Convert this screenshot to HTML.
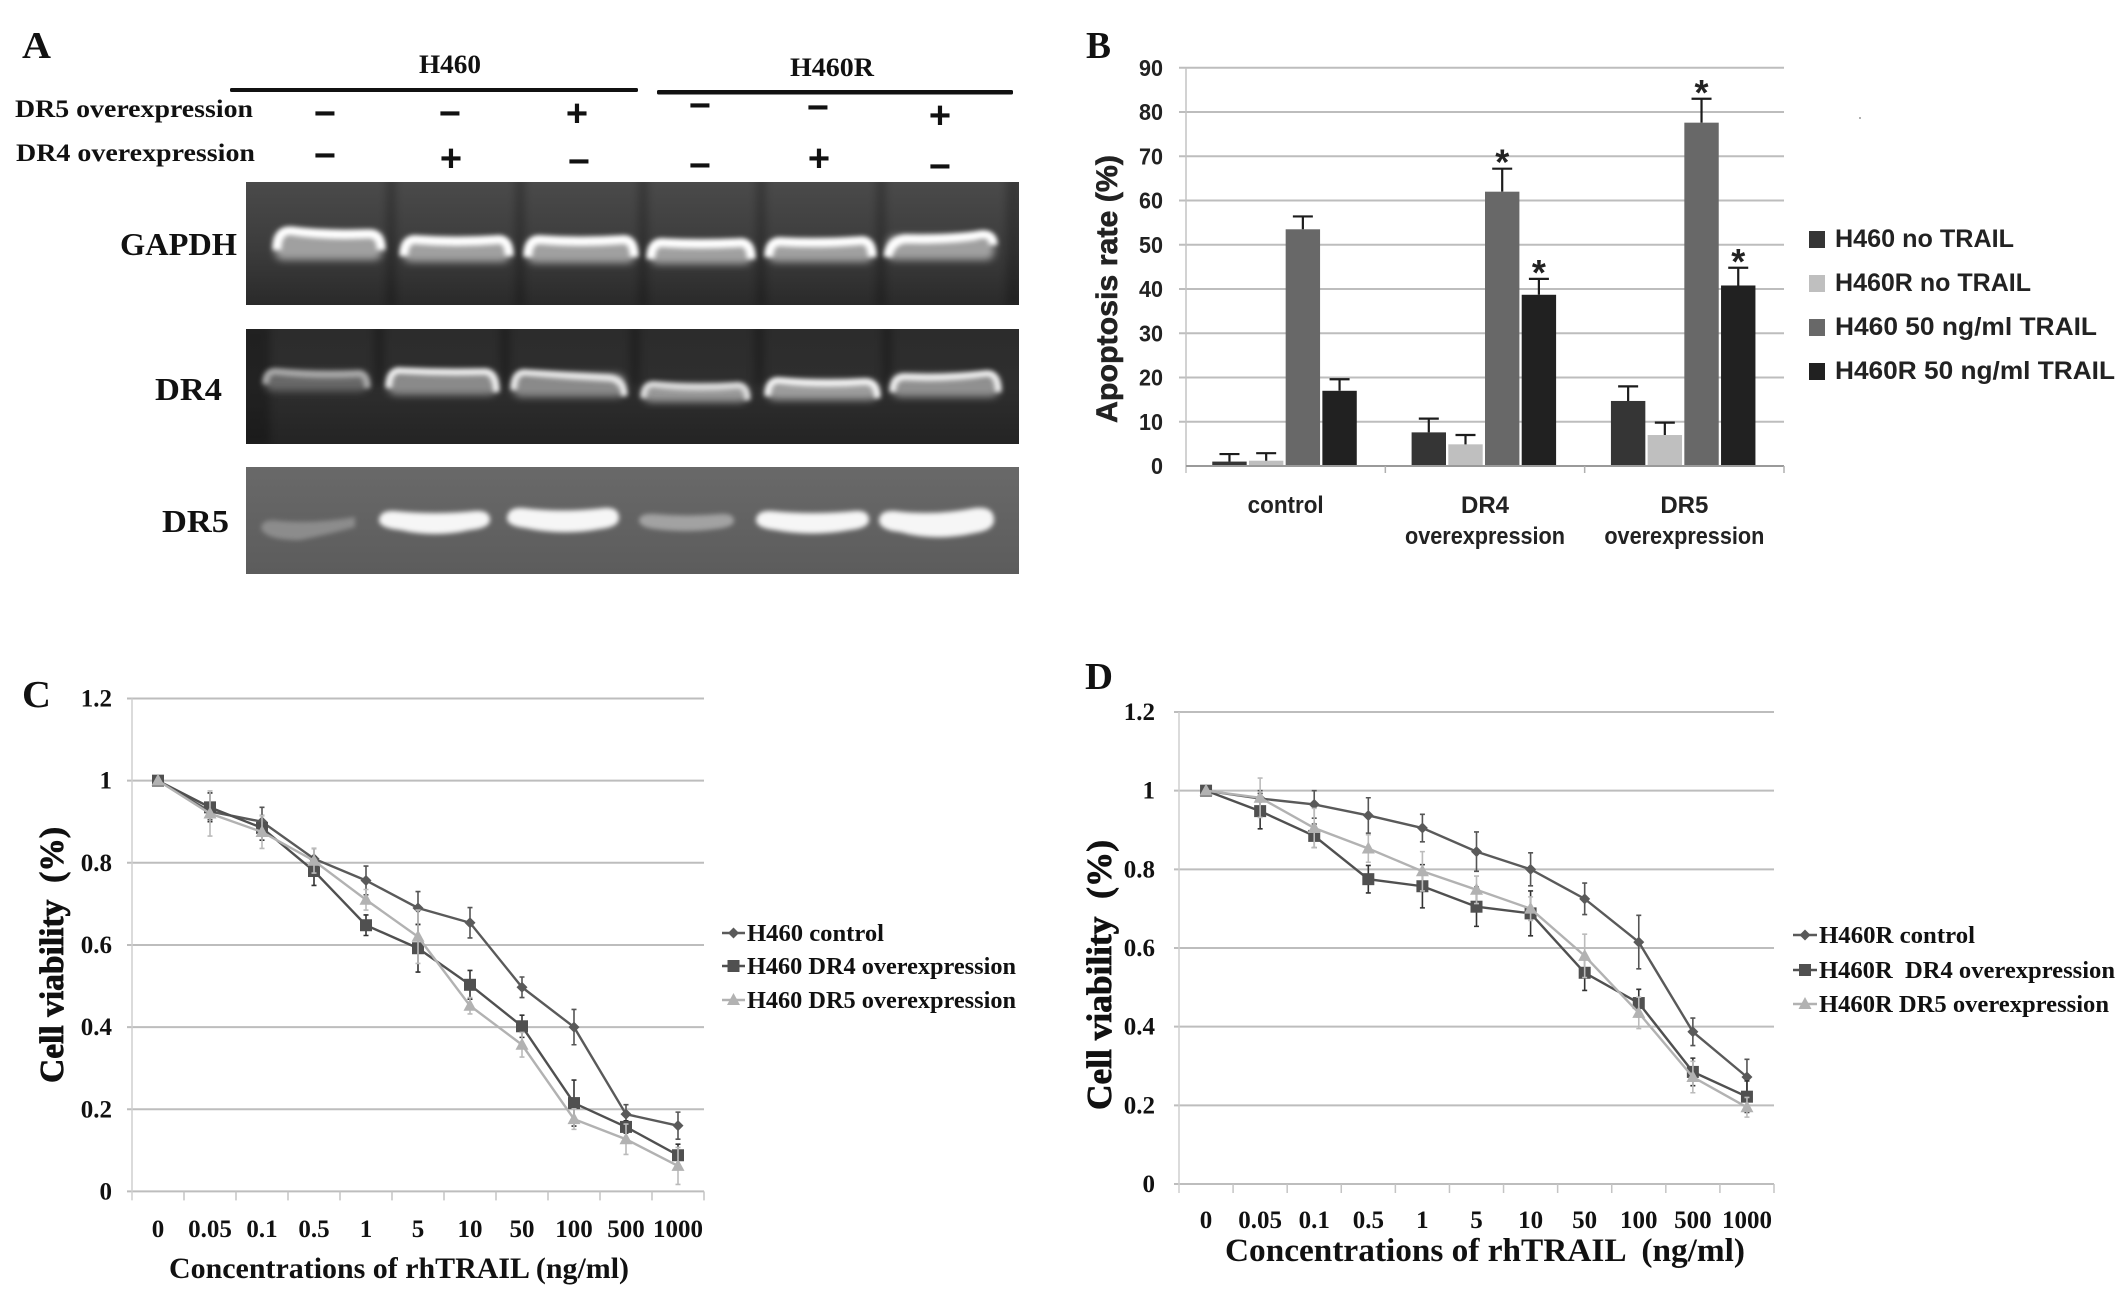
<!DOCTYPE html>
<html lang="en">
<head>
<meta charset="utf-8">
<title>DR4 and DR5 overexpression figure</title>
<style>
html,body{margin:0;padding:0;background:#fff;}
svg{display:block;}
.serif{font-family:"Liberation Serif",serif;font-weight:bold;fill:#111;}
.sans{font-family:"Liberation Sans",sans-serif;font-weight:bold;fill:#222;}
</style>
</head>
<body>
<svg id="figure" xmlns="http://www.w3.org/2000/svg" width="2126" height="1314" viewBox="0 0 2126 1314">
<defs>
<filter id="blurBand" filterUnits="userSpaceOnUse" x="230" y="170" width="800" height="420"><feGaussianBlur stdDeviation="2.4"/></filter>
<filter id="blurBandSoft" filterUnits="userSpaceOnUse" x="230" y="170" width="800" height="420"><feGaussianBlur stdDeviation="4"/></filter>
<filter id="blurLane" filterUnits="userSpaceOnUse" x="230" y="170" width="800" height="420"><feGaussianBlur stdDeviation="4"/></filter>
<linearGradient id="gapdhBg" x1="0" y1="0" x2="0" y2="1"><stop offset="0" stop-color="#4a4a4a"/><stop offset="0.55" stop-color="#3c3c3c"/><stop offset="1" stop-color="#2a2a2a"/></linearGradient>
<linearGradient id="dr4Bg" x1="0" y1="0" x2="0" y2="1"><stop offset="0" stop-color="#2c2c2c"/><stop offset="0.5" stop-color="#2e2e2e"/><stop offset="1" stop-color="#242424"/></linearGradient>
<linearGradient id="dr5Bg" x1="0" y1="0" x2="0" y2="1"><stop offset="0" stop-color="#696969"/><stop offset="1" stop-color="#5c5c5c"/></linearGradient>
<clipPath id="clipGapdh"><rect x="246" y="182" width="773" height="123"/></clipPath>
<clipPath id="clipDr4"><rect x="246" y="329" width="773" height="115"/></clipPath>
<clipPath id="clipDr5"><rect x="246" y="467" width="773" height="107"/></clipPath>
</defs>

<rect x="0" y="0" width="2126" height="1314" fill="#ffffff"/>

<!-- Panel letters -->
<text class="serif" x="22" y="58" font-size="38" textLength="29" lengthAdjust="spacingAndGlyphs">A</text>
<text class="serif" x="1086" y="58" font-size="38" textLength="25" lengthAdjust="spacingAndGlyphs">B</text>
<text class="serif" x="22" y="707" font-size="38" textLength="29" lengthAdjust="spacingAndGlyphs">C</text>
<text class="serif" x="1085" y="689" font-size="38" textLength="28" lengthAdjust="spacingAndGlyphs">D</text>

<!-- Panel A headers -->
<g>
<text class="serif" x="450" y="73" font-size="26" text-anchor="middle" textLength="62" lengthAdjust="spacingAndGlyphs">H460</text>
<text class="serif" x="832" y="76" font-size="26" text-anchor="middle" textLength="84" lengthAdjust="spacingAndGlyphs">H460R</text>
<rect x="230" y="88" width="408" height="4" rx="1.5" fill="#111"/>
<rect x="657" y="90" width="356" height="4.5" rx="1.5" fill="#111"/>
<text class="serif" x="15" y="117" font-size="25" textLength="238" lengthAdjust="spacingAndGlyphs">DR5 overexpression</text>
<text class="serif" x="16" y="161" font-size="25" textLength="239" lengthAdjust="spacingAndGlyphs">DR4 overexpression</text>
<g class="sans" font-size="38" text-anchor="middle" style="fill:#111">
<text x="325" y="126">−</text>
<text x="450" y="126">−</text>
<text x="577" y="126">+</text>
<text x="700" y="118">−</text>
<text x="818" y="120">−</text>
<text x="940" y="128">+</text>
<text x="325" y="168">−</text>
<text x="451" y="171">+</text>
<text x="579" y="174">−</text>
<text x="700" y="178">−</text>
<text x="819" y="171">+</text>
<text x="940" y="179">−</text>
</g>
<text class="serif" x="120" y="255" font-size="32" textLength="117" lengthAdjust="spacingAndGlyphs">GAPDH</text>
<text class="serif" x="155" y="400" font-size="32" textLength="67" lengthAdjust="spacingAndGlyphs">DR4</text>
<text class="serif" x="162" y="532" font-size="32" textLength="67" lengthAdjust="spacingAndGlyphs">DR5</text>
</g>

<!-- GAPDH gel -->
<g clip-path="url(#clipGapdh)">
<rect x="246" y="182" width="773" height="123" fill="url(#gapdhBg)"/>
<g fill="#000" opacity="0.22" filter="url(#blurLane)">
<rect x="386" y="176" width="10" height="130"/>
<rect x="515" y="176" width="10" height="130"/>
<rect x="638" y="176" width="10" height="130"/>
<rect x="756" y="176" width="10" height="130"/>
<rect x="876" y="176" width="10" height="130"/>
<rect x="1006" y="176" width="16" height="130"/>
</g>
<g fill="#a0a0a0" filter="url(#blurBandSoft)">
<rect x="275" y="232" width="107" height="28" rx="8"/>
<rect x="403" y="239" width="107" height="23" rx="8"/>
<rect x="527" y="239" width="108" height="24" rx="8"/>
<rect x="650" y="242" width="102" height="22" rx="8"/>
<rect x="768" y="241" width="105" height="21" rx="8"/>
<rect x="887" y="236" width="107" height="24" rx="8"/>
</g>
<g fill="none" stroke="#ffffff" stroke-width="9" filter="url(#blurBand)">
<path d="M277 250 Q277 230 291 231 Q328 236 368 234 Q381 233 381 250"/>
<path d="M404 256 Q404 238 418 240 Q456 243 496 240 Q509 238 509 256"/>
<path d="M528 257 Q528 238 542 240 Q580 243 621 240 Q634 238 634 257"/>
<path d="M651 259 Q651 241 665 243 Q700 245 738 243 Q751 241 751 259"/>
<path d="M769 257 Q769 240 783 242 Q820 244 859 241 Q872 239 872 257"/>
<path d="M888 257 Q890 241 905 239 Q945 240 975 236 Q993 231 993 245"/>
</g>
</g>

<!-- DR4 gel -->
<g clip-path="url(#clipDr4)">
<rect x="246" y="329" width="773" height="115" fill="url(#dr4Bg)"/>
<g fill="#000" opacity="0.25" filter="url(#blurLane)">
<rect x="240" y="325" width="30" height="120"/>
<rect x="374" y="325" width="10" height="60"/>
<rect x="500" y="325" width="10" height="60"/>
<rect x="630" y="325" width="10" height="60"/>
<rect x="754" y="325" width="10" height="60"/>
<rect x="882" y="325" width="10" height="60"/>
</g>
<g filter="url(#blurBandSoft)">
<rect x="265" y="372" width="103" height="19" rx="8" fill="#686868"/>
<rect x="388" y="372" width="109" height="23" rx="8" fill="#8a8a8a"/>
<rect x="513" y="374" width="112" height="23" rx="8" fill="#8a8a8a"/>
<rect x="643" y="385" width="105" height="17" rx="8" fill="#989898"/>
<rect x="767" y="381" width="111" height="19" rx="8" fill="#9c9c9c"/>
<rect x="892" y="375" width="107" height="22" rx="8" fill="#909090"/>
</g>
<g fill="none" stroke-width="7" filter="url(#blurBand)">
<path stroke="#a8a8a8" d="M266 384 Q266 370 278 372 Q316 376 356 374 Q367 372 367 388"/>
<path stroke="#eeeeee" d="M389 388 Q389 369 402 371 Q442 373 483 372 Q496 371 496 392"/>
<path stroke="#e8e8e8" d="M514 390 Q514 371 527 373 Q568 376 610 378 Q624 380 624 396"/>
<path stroke="#dddddd" d="M644 398 Q644 383 656 385 Q695 389 735 386 Q747 384 747 400"/>
<path stroke="#f4f4f4" d="M768 396 Q768 379 781 381 Q822 385 864 382 Q877 381 877 398"/>
<path stroke="#eeeeee" d="M893 392 Q893 376 906 377 Q945 379 985 374 Q998 372 998 392"/>
</g>
</g>

<!-- DR5 gel -->
<g clip-path="url(#clipDr5)">
<rect x="246" y="467" width="773" height="107" fill="url(#dr5Bg)"/>
<g filter="url(#blurBand)">
<path fill="#8c8c8c" d="M261 528 Q262 518 280 521 Q315 524 355 517 L355 527 Q330 534 300 540 Q265 540 261 528Z"/>
<path fill="#f6f6f6" d="M379 520 Q380 510 395 511 Q435 515 475 511 Q490 510 490 520 Q490 528 470 530 Q435 538 400 530 Q379 528 379 520Z"/>
<path fill="#f6f6f6" d="M507 518 Q508 507 523 508 Q563 513 604 508 Q619 507 619 518 Q619 527 600 529 Q563 536 525 528 Q507 526 507 518Z"/>
<path fill="#a2a2a2" d="M639 520 Q640 513 655 514 Q687 517 720 514 Q734 513 734 521 Q734 527 715 529 Q687 533 655 529 Q639 527 639 520Z"/>
<path fill="#f6f6f6" d="M756 520 Q757 510 772 511 Q812 515 855 511 Q869 510 869 520 Q869 528 850 530 Q812 537 775 530 Q756 528 756 520Z"/>
<path fill="#f6f6f6" d="M879 520 Q880 510 895 511 Q935 516 975 508 Q994 506 994 520 Q994 530 975 533 Q935 542 900 532 Q879 530 879 520Z"/>
</g>
</g>

<circle cx="1860" cy="118" r="1" fill="#999"/>
<g id="chartB"></g>
<g id="chartC"></g>
<g id="chartD"></g>
</svg>

<script>
/* Panel B data */
const barCategories = [['control'], ['DR4', 'overexpression'], ['DR5', 'overexpression']];
const barSeriesNames = ['H460 no TRAIL', 'H460R no TRAIL', 'H460 50 ng/ml TRAIL', 'H460R 50 ng/ml TRAIL'];
const barH460NoTrail = [1, 7.6, 14.7];
const barH460RNoTrail = [1.2, 4.9, 7];
const barH460Trail = [53.5, 62, 77.6];
const barH460RTrail = [17, 38.7, 40.8];
const barErrH460NoTrail = [1.7, 3.1, 3.3];
const barErrH460RNoTrail = [1.7, 2.1, 2.8];
const barErrH460Trail = [2.9, 5.2, 5.4];
const barErrH460RTrail = [2.6, 3.6, 4];
const barStarH460Trail = [false, true, true];
const barStarH460RTrail = [false, true, true];
const barTickValues = [0, 10, 20, 30, 40, 50, 60, 70, 80, 90];

/* Panel C data */
const categoriesC = ['0', '0.05', '0.1', '0.5', '1', '5', '10', '50', '100', '500', '1000'];
const yTicksC = [0, 0.2, 0.4, 0.6, 0.8, 1, 1.2];
const controlC = [1, 0.925, 0.9, 0.81, 0.757, 0.69, 0.654, 0.497, 0.4, 0.188, 0.16];
const dr4C = [1, 0.935, 0.885, 0.78, 0.648, 0.592, 0.503, 0.402, 0.215, 0.157, 0.088];
const dr5C = [1, 0.92, 0.875, 0.805, 0.71, 0.62, 0.452, 0.357, 0.176, 0.127, 0.062];
const controlErrC = [0, 0.02, 0.035, 0.025, 0.035, 0.04, 0.037, 0.025, 0.043, 0.023, 0.033];
const dr4ErrC = [0, 0.035, 0.03, 0.035, 0.025, 0.058, 0.035, 0.027, 0.056, 0.015, 0.027];
const dr5ErrC = [0, 0.055, 0.04, 0.03, 0.025, 0.065, 0.02, 0.03, 0.025, 0.037, 0.045];

/* Panel D data */
const categoriesD = ['0', '0.05', '0.1', '0.5', '1', '5', '10', '50', '100', '500', '1000'];
const yTicksD = [0, 0.2, 0.4, 0.6, 0.8, 1, 1.2];
const controlD = [1, 0.98, 0.965, 0.937, 0.905, 0.845, 0.8, 0.725, 0.615, 0.387, 0.272];
const dr4D = [1, 0.948, 0.885, 0.775, 0.757, 0.705, 0.688, 0.537, 0.46, 0.285, 0.222];
const dr5D = [1, 0.982, 0.905, 0.853, 0.795, 0.748, 0.7, 0.58, 0.435, 0.272, 0.195];
const controlErrD = [0, 0.02, 0.035, 0.045, 0.035, 0.05, 0.042, 0.04, 0.068, 0.035, 0.045];
const dr4ErrD = [0, 0.045, 0.03, 0.035, 0.055, 0.05, 0.057, 0.045, 0.035, 0.035, 0.04];
const dr5ErrD = [0, 0.05, 0.05, 0.035, 0.05, 0.035, 0.03, 0.055, 0.04, 0.04, 0.025];

const NS = 'http://www.w3.org/2000/svg';
function make(parent, tag, attrs, content) {
  const el = document.createElementNS(NS, tag);
  for (const k in attrs) el.setAttribute(k, attrs[k]);
  if (content !== undefined) el.textContent = content;
  parent.appendChild(el);
  return el;
}

/* ---------- Panel B ---------- */
(function () {
  const root = document.getElementById('chartB');
  const left = 1186, right = 1784, top = 67.8, base = 466;
  const yMax = 90;
  const band = (right - left) / barCategories.length;
  const barStep = 36.7, barWidth = 34.4;
  const yOf = v => base - v / yMax * (base - top);
  const xOf = (g, s) => left + (g + 0.5) * band + (s - 2) * barStep;

  const series = [
    { vals: barH460NoTrail, errs: barErrH460NoTrail, stars: null, color: '#353535', slug: 'h460-no-trail' },
    { vals: barH460RNoTrail, errs: barErrH460RNoTrail, stars: null, color: '#bfbfbf', slug: 'h460r-no-trail' },
    { vals: barH460Trail, errs: barErrH460Trail, stars: barStarH460Trail, color: '#686868', slug: 'h460-trail' },
    { vals: barH460RTrail, errs: barErrH460RTrail, stars: barStarH460RTrail, color: '#212121', slug: 'h460r-trail' }
  ];

  barTickValues.forEach(t => {
    if (t > 0) {
      const g = make(root, 'line', { x1: left - 7, x2: right, y1: yOf(t), y2: yOf(t), stroke: '#bdbdbd', 'stroke-width': 2 });
      
      
    }
    const lab = make(root, 'text', { class: 'sans', x: 1163, y: yOf(t) + 8, 'font-size': 23, 'text-anchor': 'end', textLength: t === 0 ? 12 : 24, lengthAdjust: 'spacingAndGlyphs' }, String(t));
    
    
  });

  const yAxis = make(root, 'line', { x1: left, x2: left, y1: top, y2: base + 7, stroke: '#c4c4c4', 'stroke-width': 1.5 });
  
  

  series.forEach(s => {
    s.vals.forEach((v, g) => {
      const x = xOf(g, series.indexOf(s));
      const bar = make(root, 'rect', { x: x, y: yOf(v), width: barWidth, height: base - yOf(v), fill: s.color });
      
      
      const cx = x + barWidth / 2;
      const topY = yOf(v + s.errs[g]);
      const err = make(root, 'path', { d: 'M' + cx + ' ' + yOf(v) + 'V' + topY + 'M' + (cx - 10) + ' ' + topY + 'H' + (cx + 10), stroke: '#1c1c1c', 'stroke-width': 2.2, fill: 'none' });
      
      
      if (s.stars && s.stars[g]) {
        const star = make(root, 'text', { class: 'sans', x: cx, y: topY + 6, 'font-size': 36, 'text-anchor': 'middle' }, '*');
        
        
      }
    });
  });

  const xAxis = make(root, 'line', { x1: left, x2: right, y1: base, y2: base, stroke: '#9a9a9a', 'stroke-width': 2 });
  
  

  barCategories.forEach((lines, g) => {
    const tick = make(root, 'line', { x1: left + (g + 1) * band, x2: left + (g + 1) * band, y1: base, y2: base + 7, stroke: '#b0b0b0', 'stroke-width': 1.5 });
    
    
    lines.forEach((line, i) => {
      const attrs = { class: 'sans', x: left + (g + 0.5) * band, y: 513 + i * 31, 'font-size': 24, 'text-anchor': 'middle' };
      if (line === 'overexpression') { attrs.textLength = 160; attrs.lengthAdjust = 'spacingAndGlyphs'; }
      if (line === 'control') { attrs.textLength = 76; attrs.lengthAdjust = 'spacingAndGlyphs'; }
      const lab = make(root, 'text', attrs, line);
      
      
    });
  });

  const yTitle = make(root, 'text', { class: 'sans', transform: 'translate(1117 289) rotate(-90)', 'font-size': 30, 'text-anchor': 'middle', textLength: 268, lengthAdjust: 'spacingAndGlyphs', stroke: '#222', 'stroke-width': 0.6 }, 'Apoptosis rate (%)');
  
  

  const legendWidths = [179, 196, 262, 280];
  barSeriesNames.forEach((name, i) => {
    const ly = 239 + i * 44;
    const sw = make(root, 'rect', { x: 1809, y: ly - 8, width: 16, height: 17, fill: series[i].color });
    
    
    const t = make(root, 'text', { class: 'sans', x: 1835, y: ly + 8, 'font-size': 25, textLength: legendWidths[i], lengthAdjust: 'spacingAndGlyphs' }, name);
    
    
  });
})();

/* ---------- Panels C and D ---------- */
function drawLineChart(cfg) {
  const root = document.getElementById(cfg.id);
  const band = (cfg.right - cfg.left) / cfg.categories.length;
  const yMax = 1.2;
  const xOf = i => cfg.left + (i + 0.5) * band;
  const yOf = v => cfg.base - v / yMax * (cfg.base - cfg.top);

  cfg.yTicks.forEach(t => {
    const gl = make(root, 'line', { x1: cfg.left - 5, x2: cfg.right, y1: yOf(t), y2: yOf(t), stroke: '#bdbdbd', 'stroke-width': 2 });
    
    
    const lab = make(root, 'text', { class: 'serif', x: cfg.tickRight, y: yOf(t) + 8, 'font-size': 25, 'text-anchor': 'end' }, String(t));
    
    
  });

  const yAxis = make(root, 'line', { x1: cfg.left, x2: cfg.left, y1: cfg.top, y2: cfg.base + 9, stroke: '#cfcfcf', 'stroke-width': 1.5 });
  
  

  for (let i = 1; i <= cfg.categories.length; i++) {
    const tick = make(root, 'line', { x1: cfg.left + i * band, x2: cfg.left + i * band, y1: cfg.base, y2: cfg.base + 9, stroke: '#c4c4c4', 'stroke-width': 1.5 });
    
    
  }

  cfg.categories.forEach((c, i) => {
    const lab = make(root, 'text', { class: 'serif', x: xOf(i), y: cfg.xLabelY, 'font-size': 25, 'text-anchor': 'middle' }, c);
    
    
  });

  const xTitle = make(root, 'text', { class: 'serif', x: cfg.xTitle.x, y: cfg.xTitle.y, 'font-size': cfg.xTitle.size, textLength: cfg.xTitle.len, lengthAdjust: 'spacingAndGlyphs' }, 'Concentrations of rhTRAIL' + cfg.xTitle.gap + '(ng/ml)');
  xTitle.setAttribute('xml:space', 'preserve');
  xTitle.setAttribute('style', 'white-space:pre');
  
  

  const yTitle = make(root, 'text', { class: 'serif', transform: 'translate(' + cfg.yTitle.x + ' ' + cfg.yTitle.y + ') rotate(-90)', 'font-size': cfg.yTitle.size, 'text-anchor': 'middle', textLength: cfg.yTitle.len, lengthAdjust: 'spacingAndGlyphs', style: 'white-space:pre', stroke: '#111', 'stroke-width': 0.8 }, 'Cell viability  (%)');
  
  

  function marker(parent, shape, x, y, color) {
    if (shape === 'diamond') return make(parent, 'path', { d: 'M' + x + ' ' + (y - 5.5) + 'L' + (x + 5.5) + ' ' + y + 'L' + x + ' ' + (y + 5.5) + 'L' + (x - 5.5) + ' ' + y + 'Z', fill: color });
    if (shape === 'square') return make(parent, 'rect', { x: x - 6, y: y - 6, width: 12, height: 12, fill: color });
    return make(parent, 'path', { d: 'M' + x + ' ' + (y - 7) + 'L' + (x + 6.5) + ' ' + (y + 5) + 'L' + (x - 6.5) + ' ' + (y + 5) + 'Z', fill: color });
  }

  cfg.series.forEach(s => {
    const g = make(root, 'g', {});
    
    
    s.vals.forEach((v, i) => {
      if (s.errs[i] <= 0) return;
      const x = xOf(i);
      const up = yOf(v + s.errs[i]), down = yOf(v - s.errs[i]);
      const e = make(g, 'path', { d: 'M' + x + ' ' + up + 'V' + down + 'M' + (x - 2.5) + ' ' + up + 'H' + (x + 2.5) + 'M' + (x - 2.5) + ' ' + down + 'H' + (x + 2.5), stroke: s.errColor, 'stroke-width': 1.6, fill: 'none' });
      
      
    });
    const line = make(g, 'polyline', { points: s.vals.map((v, i) => xOf(i) + ',' + yOf(v)).join(' '), fill: 'none', stroke: s.color, 'stroke-width': 2.4 });
    
    
    s.vals.forEach((v, i) => {
      const m = marker(g, s.shape, xOf(i), yOf(v), s.color);
      
      
    });
  });

  cfg.series.forEach((s, i) => {
    const ly = cfg.legend.ys[i];
    const l = make(root, 'line', { x1: cfg.legend.x1, x2: cfg.legend.x2, y1: ly, y2: ly, stroke: s.color, 'stroke-width': 2.4 });
    
    
    const m = marker(root, s.shape, (cfg.legend.x1 + cfg.legend.x2) / 2, ly, s.color);
    
    
    const t = make(root, 'text', { class: 'serif', x: cfg.legend.textX, y: ly + 8, 'font-size': 24, textLength: s.legendLen, lengthAdjust: 'spacingAndGlyphs', style: 'white-space:pre' }, s.name);
    
    
  });
}

drawLineChart({
  id: 'chartC', left: 132, right: 704, top: 698.5, base: 1191.4, tickRight: 112, xLabelY: 1237,
  categories: categoriesC, yTicks: yTicksC,
  xTitle: { x: 169, y: 1278, size: 30, len: 460, gap: ' ' },
  yTitle: { x: 63, y: 955, size: 34, len: 256 },
  legend: { x1: 722, x2: 745, textX: 747, ys: [933, 966, 1000] },
  series: [
    { name: 'H460 control', slug: 'h460-control', vals: controlC, errs: controlErrC, shape: 'diamond', color: '#5a5a5a', errColor: '#555', legendLen: 137 },
    { name: 'H460 DR4 overexpression', slug: 'h460-dr4', vals: dr4C, errs: dr4ErrC, shape: 'square', color: '#505050', errColor: '#333', legendLen: 269 },
    { name: 'H460 DR5 overexpression', slug: 'h460-dr5', vals: dr5C, errs: dr5ErrC, shape: 'triangle', color: '#b2b2b2', errColor: '#bbb', legendLen: 269 }
  ]
});

drawLineChart({
  id: 'chartD', left: 1179, right: 1774, top: 712, base: 1184, tickRight: 1155, xLabelY: 1228,
  categories: categoriesD, yTicks: yTicksD,
  xTitle: { x: 1225, y: 1261, size: 33, len: 520, gap: '  ' },
  yTitle: { x: 1111, y: 975, size: 35, len: 270 },
  legend: { x1: 1793, x2: 1817, textX: 1819, ys: [935, 970, 1004] },
  series: [
    { name: 'H460R control', slug: 'h460r-control', vals: controlD, errs: controlErrD, shape: 'diamond', color: '#5a5a5a', errColor: '#555', legendLen: 156 },
    { name: 'H460R  DR4 overexpression', slug: 'h460r-dr4', vals: dr4D, errs: dr4ErrD, shape: 'square', color: '#505050', errColor: '#333', legendLen: 296 },
    { name: 'H460R DR5 overexpression', slug: 'h460r-dr5', vals: dr5D, errs: dr5ErrD, shape: 'triangle', color: '#b2b2b2', errColor: '#bbb', legendLen: 290 }
  ]
});
</script>
</body>
</html>
